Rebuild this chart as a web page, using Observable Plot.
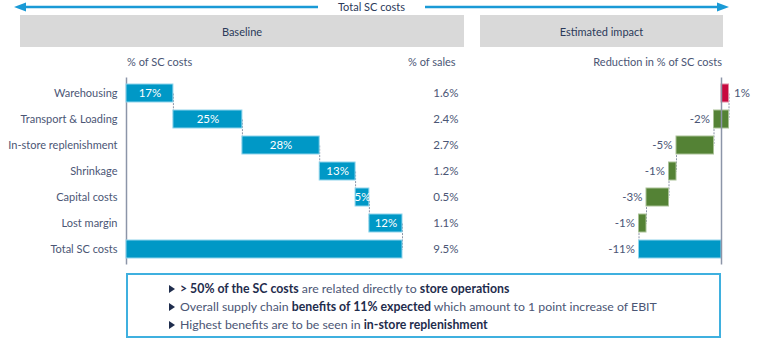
<!DOCTYPE html>
<html><head><meta charset="utf-8">
<script src="https://cdn.jsdelivr.net/npm/d3@7"></script>
<script src="https://cdn.jsdelivr.net/npm/@observablehq/plot@0.6"></script>
<style>
body{margin:0;background:#fff;}
#wrap{position:relative;width:768px;height:346px;overflow:hidden;font-family:Lato,"Open Sans",sans-serif;color:#4b5675;}
.abs{position:absolute;}
.hdr{background:#d9d9d9;color:#2b3a5a;font-size:11px;display:flex;align-items:center;justify-content:center;}
.colh{font-size:11px;color:#4b5675;white-space:nowrap;}
#note{left:126px;top:273px;width:591px;height:61px;border:2px solid #3fb0df;}
.line{position:absolute;left:41px;font-size:12.3px;color:#4b5675;white-space:nowrap;}
.line b{color:#1f2d4d;font-weight:700;}
.tri{display:inline-block;width:0;height:0;border-left:6px solid #1f2d4d;border-top:4px solid transparent;border-bottom:4px solid transparent;margin-right:5px;vertical-align:0px;}
#plots svg{position:absolute;left:0;top:0;}
</style></head><body>
<div id="wrap">
  <svg class="abs" style="left:0;top:0" width="768" height="16">
    <line x1="24" y1="7" x2="318" y2="7" stroke="#1a9ad6" stroke-width="2.5"/>
    <line x1="425" y1="7" x2="718" y2="7" stroke="#1a9ad6" stroke-width="2.5"/>
    <path d="M14,7 L26,2.5 L26,11.5 Z" fill="#1a9ad6"/>
    <path d="M729,7 L717,2.5 L717,11.5 Z" fill="#1a9ad6"/>
  </svg>
  <div class="abs" style="left:318px;top:0;width:107px;text-align:center;font-size:11px;color:#2b3a5a;line-height:14px;">Total SC costs</div>
  <div class="abs hdr" style="left:20px;top:15px;width:444px;height:32px;">Baseline</div>
  <div class="abs hdr" style="left:480px;top:15px;width:243px;height:32px;">Estimated impact</div>
  <div class="abs colh" style="left:127px;top:55px;">% of SC costs</div>
  <div class="abs colh" style="left:408px;top:55px;">% of sales</div>
  <div class="abs colh" style="right:46px;top:55px;">Reduction in % of SC costs</div>
  <div id="plots"></div>
  <div class="abs" id="note">
    <div class="line" style="top:6px"><span class="tri"></span><b>&gt; 50% of the SC costs</b> are related directly to <b>store operations</b></div>
    <div class="line" style="top:24px"><span class="tri"></span>Overall supply chain <b>benefits of 11% expected</b> which amount to 1 point increase of EBIT</div>
    <div class="line" style="top:42px"><span class="tri"></span>Highest benefits are to be seen in <b>in-store replenishment</b></div>
  </div>
</div>
<script>
const categories = ["Warehousing", "Transport & Loading", "In-store replenishment", "Shrinkage", "Capital costs", "Lost margin"];
const totalLabel = "Total SC costs";
const scShare = [17, 25, 28, 13, 5, 12];          // % of SC costs
const salesShare = [1.6, 2.4, 2.7, 1.2, 0.5, 1.1, 9.5]; // % of sales (incl. total)
const impact = [1, -2, -5, -1, -3, -1];            // reduction in % of SC costs

const blue = "#0098c6", green = "#548235", red = "#c8093f";
const allCats = [...categories, totalLabel];

// baseline waterfall
let acc = 0;
const base = categories.map((c, i) => { const s = acc; acc += scShare[i]; return {cat: c, x1: s, x2: acc, v: scShare[i], total: false}; });
base.push({cat: totalLabel, x1: 0, x2: acc, v: acc, total: true});
const baseLinks = base.slice(0, -1).map((d, i) => ({x: d.x2, from: d.cat, to: base[i + 1].cat}));

// impact waterfall
let acc2 = 0;
const imp = categories.map((c, i) => { const s = acc2; acc2 += impact[i]; return {cat: c, x1: Math.min(s, acc2), x2: Math.max(s, acc2), v: impact[i], end: acc2, total: false}; });
imp.push({cat: totalLabel, x1: Math.min(0, acc2), x2: Math.max(0, acc2), v: acc2, end: acc2, total: true});
const impLinks = imp.slice(0, -1).map((d, i) => ({x: d.end, from: d.cat, to: imp[i + 1].cat}));

const common = {
  width: 768, height: 346, marginTop: 77.5, marginBottom: 81.5,
  style: {fontFamily: "Lato, 'Open Sans', sans-serif", fontSize: "11px", color: "#4b5675", background: "transparent", overflow: "visible"}
};
const yOpt = {type: "band", domain: allCats, paddingInner: 0.31, paddingOuter: 0.155, align: 0.5};

const left = Plot.plot({
  ...common,
  marginLeft: 126, marginRight: 366,
  x: {domain: [0, 100], axis: null},
  y: {...yOpt, axis: "left", tickSize: 0, tickPadding: 9, label: null},
  marks: [
    Plot.ruleX([0], {stroke: "#8c95a8", strokeWidth: 1.5}),
    Plot.link(baseLinks, {x1: "x", x2: "x", y1: "from", y2: "to", stroke: "#8c95a8", strokeWidth: 1, strokeDasharray: "2,1.2"}),
    Plot.barX(base, {x1: "x1", x2: "x2", y: "cat", fill: blue, stroke: "#8fd4ec", strokeWidth: 1}),
    Plot.text(base.filter(d => !d.total), {x: d => (d.x1 + d.x2) / 2, y: "cat", text: d => d.v + "%", fill: "white", fontSize: 11.5}),
    Plot.text(allCats, {y: d => d, text: (d, i) => salesShare[i].toFixed(1) + "%", frameAnchor: "right", dx: 56, textAnchor: "end", fill: "#4b5675", fontSize: 11.5})
  ]
});

const right = Plot.plot({
  ...common,
  marginLeft: 638.5, marginRight: 39.5,
  x: {domain: [-11, 1], axis: null},
  y: {...yOpt, axis: null},
  marks: [
    Plot.link(impLinks, {x1: "x", x2: "x", y1: "from", y2: "to", stroke: "#8c95a8", strokeWidth: 1, strokeDasharray: "2,1.2"}),
    Plot.barX(imp, {x1: "x1", x2: "x2", y: "cat", fill: d => d.total ? blue : d.v > 0 ? red : green, stroke: d => d.total ? "#8fd4ec" : d.v > 0 ? "#e48aa3" : "#a9c196", strokeWidth: 1}),
    Plot.ruleX([0], {stroke: "#8c95a8", strokeWidth: 1.5}),
    Plot.text(imp.filter(d => d.v < 0), {x: "x1", y: "cat", text: d => d.v + "%", textAnchor: "end", dx: -4, fill: "#4b5675", fontSize: 11.5}),
    Plot.text(imp.filter(d => d.v > 0), {x: "x2", y: "cat", text: d => d.v + "%", textAnchor: "start", dx: 5, fill: "#4b5675", fontSize: 11.5})
  ]
});

const holder = document.getElementById("plots");
holder.appendChild(left);
holder.appendChild(right);
</script>
</body></html>
